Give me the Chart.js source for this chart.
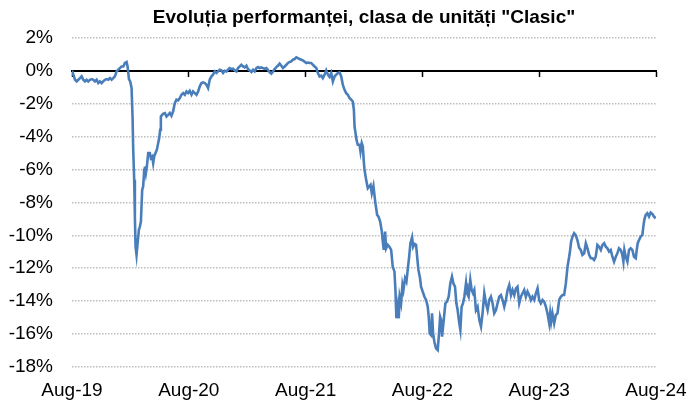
<!DOCTYPE html>
<html><head><meta charset="utf-8">
<script src="https://cdn.jsdelivr.net/npm/chart.js@4"></script>
<style>html,body{margin:0;padding:0;background:#fff}</style>
</head><body>
<canvas id="c" width="689" height="400" style="width:689px;height:400px;display:block"></canvas>
<script>
const titleText = 'Evoluția performanței, clasa de unități "Clasic"';
const xTickLabels = ['Aug-19', 'Aug-20', 'Aug-21', 'Aug-22', 'Aug-23', 'Aug-24'];
// months elapsed since Aug-2019
const months = [
0,0.14,0.31,0.48,0.65,0.82,0.99,1.16,1.33,1.5,1.67,1.85,2.02,2.19,2.36,2.53,2.7,2.87,3.04,3.21,3.38,3.56,3.73,3.9,4.07,4.24,4.41,4.58,4.75,4.92,5.09,5.27,5.44,5.61,5.71,5.85,5.98,6.12,6.22,6.29,6.39,6.46,6.53,6.63,6.74,6.87,6.97,7.08,7.21,7.31,7.42,7.49,7.59,7.69,7.83,8.0,8.1,8.24,8.34,8.44,8.58,8.72,8.85,8.96,9.06,9.13,9.26,
9.4,9.54,9.71,9.88,10.05,10.22,10.39,10.56,10.73,10.9,11.08,11.25,11.42,11.59,11.76,11.93,12.1,12.28,12.44,12.62,12.79,12.96,13.13,13.3,13.47,13.64,13.81,13.98,14.15,14.33,14.49,14.67,14.84,15.01,15.18,15.35,15.52,15.69,15.87,16.03,16.2,16.38,16.54,16.72,16.89,17.06,17.23,17.4,17.57,17.74,17.92,18.08,18.26,18.43,18.6,18.77,18.94,19.11,19.28,19.46,19.62,19.79,19.97,20.13,
20.31,20.48,20.65,20.82,20.99,21.16,21.33,21.51,21.67,21.85,22.02,22.19,22.36,22.53,22.7,22.87,23.05,23.21,23.38,23.56,23.72,23.9,24.07,24.24,24.41,24.58,24.75,24.92,25.1,25.26,25.44,25.61,25.77,25.95,26.12,26.29,26.46,26.63,26.8,26.97,27.15,27.31,27.49,27.66,27.82,28.0,28.17,28.34,28.51,28.69,28.85,28.96,29.03,29.13,29.23,29.36,29.54,29.64,29.77,29.88,29.98,30.05,
30.22,30.39,30.67,30.8,30.97,31.15,31.35,31.49,31.66,31.83,31.93,32.03,32.17,32.27,32.44,32.61,32.79,32.95,33.13,33.23,33.33,33.47,33.57,33.67,33.81,33.95,34.05,34.22,34.36,34.49,34.64,34.77,34.94,35.05,35.18,35.35,35.46,35.59,35.76,35.86,36.03,36.21,36.38,36.55,36.65,36.75,36.89,36.99,37.1,37.23,37.4,37.57,37.71,37.82,37.92,38.02,38.19,38.36,38.53,38.7,38.87,39.04,39.18,39.35,39.49,39.62,39.79,39.9,40.03,40.17,40.31,40.48,40.58,40.75,40.92,41.06,41.2,41.33,
41.5,41.67,41.85,42.02,42.18,42.36,42.53,42.7,42.87,43.04,43.21,43.38,43.56,43.72,43.9,44.07,44.24,44.41,44.58,44.75,44.92,45.1,45.26,45.44,45.61,45.77,45.95,46.12,46.29,46.46,46.63,46.8,46.97,47.15,47.31,47.49,47.66,47.83,48.0,48.17,48.34,48.51,48.69,48.85,49.03,49.13,49.23,49.36,49.54,49.71,49.88,50.05,50.22,50.39,50.56,50.74,50.91,51.08,51.18,51.28,51.42,51.59,51.76,51.93,52.1,
52.27,52.44,52.62,52.79,52.96,53.13,53.3,53.47,53.64,53.81,53.98,54.15,54.33,54.5,54.67,54.84,55.01,55.18,55.35,55.52,55.69,55.87,56.03,56.2,56.38,56.54,56.65,56.75,56.89,57.06,57.23,57.4,57.57,57.74,57.92,58.02,58.12,58.26,58.43,58.6,58.7,58.8,58.94,59.11,59.28,59.45,59.62,59.79,59.97
];
// performance, %
const performance = [
0,-0.24,-0.55,-0.65,-0.55,-0.45,-0.34,-0.55,-0.65,-0.55,-0.65,-0.55,-0.51,-0.55,-0.65,-0.55,-0.75,-0.65,-0.75,-0.65,-0.55,-0.51,-0.55,-0.45,-0.55,-0.45,-0.34,-0.04,0.06,0.16,0.26,0.26,0.47,0.53,0.26,-0.51,-0.65,-1.05,-2.78,-4.8,-6.63,-8.86,-10.69,-11.2,-10.48,-9.67,-9.47,-9.16,-7.24,-7.04,-6.02,-5.82,-6.22,-5.82,-5.0,-5.0,-5.31,-5.21,-5.61,-5.21,-5.0,-4.8,-4.4,-4.09,-3.59,-2.78,-2.68,
-2.6,-2.57,-2.78,-2.68,-2.57,-2.74,-2.47,-1.97,-1.76,-1.8,-1.66,-1.46,-1.36,-1.46,-1.26,-1.36,-1.22,-1.46,-1.26,-1.36,-1.46,-1.26,-0.95,-0.75,-0.71,-0.75,-0.85,-1.05,-0.55,-0.34,-0.24,-0.04,-0.14,-0.04,0.06,0.02,-0.14,0.0,-0.04,0.06,0.16,0.1,0.12,0.02,-0.04,0.16,0.26,0.36,0.26,0.2,0.3,0.1,0.02,-0.08,0.06,-0.04,0.16,0.22,0.16,0.2,0.16,0.12,0.16,0.06,
-0.1,-0.18,-0.04,0.1,0.22,0.3,0.43,0.3,0.16,0.26,0.36,0.47,0.53,0.57,0.67,0.71,0.81,0.77,0.71,0.67,0.63,0.55,0.47,0.5,0.47,0.47,0.36,0.26,0.16,-0.14,-0.35,-0.3,-0.45,-0.24,0.02,-0.24,-0.38,-0.14,-0.65,-0.35,-0.24,-0.14,-0.1,-0.35,-0.85,-1.16,-1.36,-1.46,-1.66,-1.76,-1.87,-2.37,-3.39,-3.79,-4.2,-4.5,-4.5,-4.91,-4.4,-4.6,-5.52,-6.0,
-6.63,-7.14,-6.93,-7.44,-7.0,-7.95,-8.76,-8.86,-9.17,-9.77,-10.38,-10.89,-9.77,-10.79,-10.58,-10.69,-10.89,-11.9,-12.21,-13.32,-15.04,-14.34,-15.04,-13.73,-14.13,-13.02,-13.32,-12.61,-12.81,-12.1,-11.3,-10.48,-10.12,-10.69,-10.52,-10.58,-11.3,-12.1,-12.61,-13.12,-13.42,-13.73,-13.93,-14.34,-14.95,-15.96,-16.06,-14.74,-15.96,-16.47,-16.87,-16.97,-15.96,-14.95,-15.15,-16.16,-15.15,-14.13,-14.03,-13.73,-12.91,-12.51,-12.91,-13.12,-14.13,-14.54,-15.35,-15.75,-14.34,-14.13,-13.73,-12.91,-13.52,-13.73,-12.71,-13.32,-13.52,-13.32,
-14.54,-14.34,-15.15,-15.55,-14.74,-13.52,-14.13,-14.54,-13.93,-13.73,-14.13,-14.74,-14.54,-14.13,-13.73,-13.63,-13.93,-14.34,-13.93,-13.32,-13.02,-13.63,-13.32,-13.63,-13.22,-13.12,-14.13,-13.73,-13.52,-13.32,-13.73,-13.42,-13.63,-13.93,-13.73,-13.93,-13.52,-13.22,-13.93,-14.13,-13.93,-14.03,-14.34,-14.74,-15.35,-14.74,-15.25,-14.74,-15.35,-14.84,-14.74,-13.93,-13.73,-13.63,-13.63,-12.91,-11.9,-11.3,-10.89,-10.38,-10.08,-9.87,-10.0,-10.3,-10.75,
-10.89,-11.19,-11.09,-10.48,-10.79,-11.19,-11.39,-11.39,-11.5,-11.3,-10.58,-10.69,-10.89,-10.58,-10.48,-10.69,-10.79,-10.99,-10.89,-11.3,-11.6,-11.3,-11.09,-10.79,-10.89,-11.19,-11.6,-10.89,-11.3,-11.6,-10.89,-10.79,-10.89,-11.3,-11.39,-10.89,-10.48,-10.28,-10.08,-9.98,-9.47,-9.06,-8.76,-8.66,-8.86,-8.62,-8.7,-8.86,-8.96
];
const yMin = -18, yMax = 2, yStep = 2, xStepMonths = 12;

const FONT = "'Liberation Sans', Arial, sans-serif";
new Chart(document.getElementById('c'), {
  type: 'line',
  data: {
    datasets: [{
      data: months.map((m, i) => ({ x: m, y: performance[i] })),
      borderColor: '#4a7ebb',
      borderWidth: 2.6,
      pointRadius: 0,
      tension: 0,
      fill: false,
      xAxisID: 'x',
      yAxisID: 'y'
    }]
  },
  options: {
    responsive: false,
    animation: false,
    devicePixelRatio: 1,
    layout: { padding: { left: 9, right: 0, top: 6, bottom: 0 } },
    plugins: {
      legend: { display: false },
      tooltip: { enabled: false },
      title: {
        display: true, text: titleText, fullSize: false, color: '#000',
        font: { family: FONT, size: 19, weight: 'bold' },
        padding: { top: 0, bottom: 9 }
      }
    },
    scales: {
      x: {
        type: 'linear', min: 0, max: xStepMonths * (xTickLabels.length - 1),
        position: { y: 0 },
        ticks: { display: false, stepSize: xStepMonths },
        grid: { drawOnChartArea: false, drawTicks: true, tickLength: 5, tickColor: '#000', tickWidth: 1.5 },
        border: { display: true, color: '#000', width: 2 },
        afterFit: s => { s.height = 0; s.paddingLeft = 0; s.paddingRight = 0; }
      },
      x2: {
        type: 'linear', min: 0, max: xStepMonths * (xTickLabels.length - 1),
        position: 'bottom',
        ticks: {
          stepSize: xStepMonths, autoSkip: false, maxRotation: 0, color: '#000',
          font: { family: FONT, size: 19 }, padding: 12,
          callback: v => xTickLabels[Math.round(v / xStepMonths)]
        },
        grid: { display: false, drawTicks: false, tickLength: 0 },
        border: { display: false },
        afterFit: s => { s.height = 33; s.paddingLeft = 0; s.paddingRight = 33; }
      },
      y: {
        min: yMin, max: yMax,
        ticks: { stepSize: yStep, color: '#000', font: { family: FONT, size: 19 }, padding: 19, callback: v => v + '%' },
        grid: { color: '#bdbdbd', lineWidth: 1.5, drawTicks: false },
        border: { display: false, dash: [1.5, 1.5] },
        afterFit: s => { s.width = 63; }
      }
    }
  }
});
</script>
</body></html>
